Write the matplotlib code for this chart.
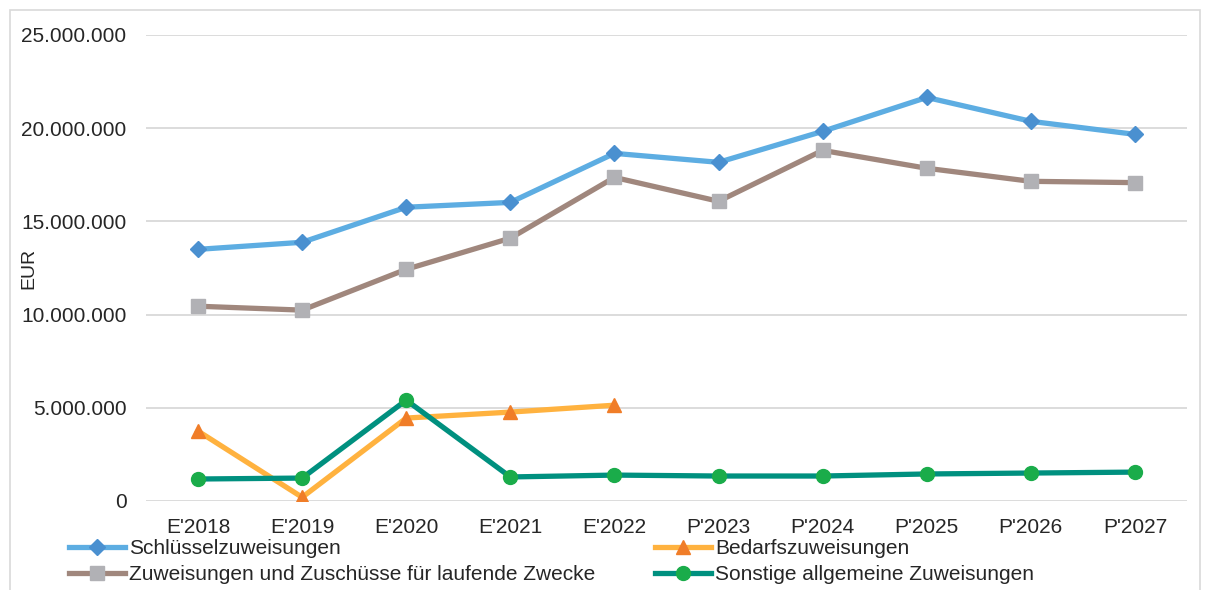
import matplotlib
matplotlib.use("Agg")
import matplotlib.pyplot as plt
from matplotlib.patches import Rectangle
from matplotlib.ticker import FuncFormatter

plt.rcParams['font.family'] = ['Liberation Sans', 'DejaVu Sans']

# Data
years = ["E'2018", "E'2019", "E'2020", "E'2021", "E'2022",
         "P'2023", "P'2024", "P'2025", "P'2026", "P'2027"]
schluessel = [13500000, 13880000, 15760000, 16020000, 18650000,
              18170000, 19830000, 21650000, 20370000, 19670000]
zuweisungen = [10450000, 10240000, 12430000, 14100000, 17360000,
               16080000, 18810000, 17850000, 17150000, 17080000]
bedarf = [3750000, 200000, 4450000, 4770000, 5140000]
sonstige = [1180000, 1230000, 5410000, 1290000, 1390000,
            1340000, 1340000, 1450000, 1500000, 1550000]

text_color = '#262626'

fig = plt.figure(figsize=(12.08, 5.9), dpi=100)
fig.patches.append(Rectangle((10 / 1208, -0.01), 1190 / 1208, 1 - 10 / 590 + 0.01,
                             transform=fig.transFigure, fill=False,
                             edgecolor='#d9d9d9', linewidth=1.2))
ax = fig.add_axes([146 / 1208, 1 - 501 / 590, (1187 - 146) / 1208, (501 - 35) / 590])

x = list(range(len(years)))
lw = 3.8
l1, = ax.plot(x, schluessel, color='#5dade2', lw=lw, marker='D', markersize=8,
              markerfacecolor='#4a90d0', markeredgecolor='#4a90d0', zorder=3)
l2, = ax.plot(x[:len(bedarf)], bedarf, color='#ffb23f', lw=lw, marker='^', markersize=10,
              markerfacecolor='#f07d28', markeredgecolor='#f07d28', zorder=3)
l3, = ax.plot(x, zuweisungen, color='#a0877d', lw=lw, marker='s', markersize=10,
              markerfacecolor='#b1b1b5', markeredgecolor='#b1b1b5', zorder=3)
l4, = ax.plot(x, sonstige, color='#00907f', lw=lw, marker='o', markersize=10,
              markerfacecolor='#1aac4a', markeredgecolor='#1aac4a', zorder=3)

ax.set_xlim(-0.5, len(years) - 0.5)
ax.set_ylim(0, 25000000)
ax.set_yticks(range(0, 25000001, 5000000))
ax.yaxis.set_major_formatter(FuncFormatter(lambda v, p: f"{v:,.0f}".replace(",", ".")))
ax.set_xticks(x)
ax.set_xticklabels(years)
ax.grid(axis='y', color='#d9d9d9', linewidth=1.3)
ax.set_axisbelow(True)
for s in ax.spines.values():
    s.set_visible(False)
ax.tick_params(axis='both', length=0, labelsize=15, colors=text_color)
ax.tick_params(axis='y', pad=14)
ax.tick_params(axis='x', pad=12)

ax.set_ylabel('EUR', fontsize=14, color=text_color)
ax.yaxis.set_label_coords(-0.104, 0.5)

leg_kw = dict(frameon=False, fontsize=15, handlelength=2.7, handletextpad=0.2,
              labelspacing=0.35, borderaxespad=0, borderpad=0, labelcolor=text_color)
fig.legend([l1, l3], ['Schlüsselzuweisungen', 'Zuweisungen und Zuschüsse für laufende Zwecke'],
           loc='upper left', bbox_to_anchor=(69 / 1208, 1 - 539 / 590), **leg_kw)
fig.legend([l2, l4], ['Bedarfszuweisungen', 'Sonstige allgemeine Zuweisungen'],
           loc='upper left', bbox_to_anchor=(655 / 1208, 1 - 539 / 590), **leg_kw)

fig.savefig('out.png', dpi=100)
